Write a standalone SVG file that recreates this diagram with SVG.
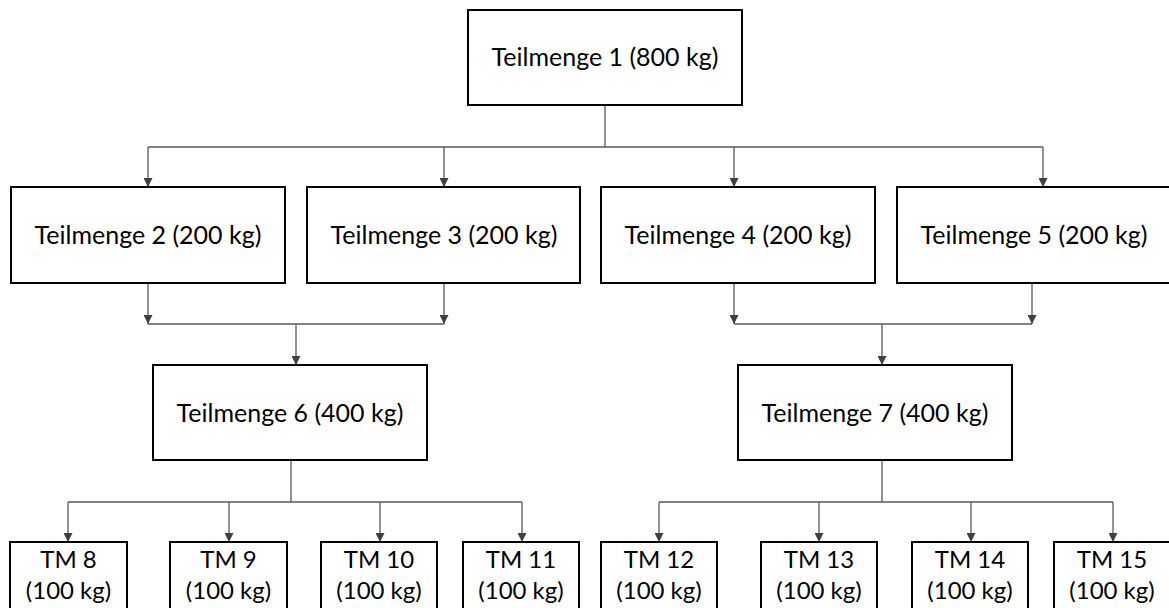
<svg xmlns="http://www.w3.org/2000/svg" width="1169" height="608" viewBox="0 0 1169 608">
  <defs>
    <marker id="arr" markerUnits="userSpaceOnUse" markerWidth="10" markerHeight="9" refX="9" refY="4.5" orient="auto">
      <path d="M0,0 L9,4.5 L0,9 Z" fill="#404040"/>
    </marker>
    <style>
      .box { fill: #ffffff; stroke: #000000; stroke-width: 2; }
      .lbl { font-family: Lato, "Open Sans", "Liberation Sans", sans-serif; font-size: 24px; fill: #000000; text-anchor: middle; }
      .big { font-size: 25px; }
      .c { fill: none; stroke: #595959; stroke-width: 1.3; }
      .a { fill: none; stroke: #595959; stroke-width: 1.3; marker-end: url(#arr); }
    </style>
  </defs>
  <rect width="1169" height="608" fill="#ffffff"/>

  <g id="connectors">
    <path class="c" d="M605 105 V147 M148 147 H1043"/>
    <path class="a" d="M148 147 V187"/>
    <path class="a" d="M444 147 V187"/>
    <path class="a" d="M734 147 V187"/>
    <path class="a" d="M1043 147 V187"/>

    <path class="a" d="M148 283 V324"/>
    <path class="a" d="M444 283 V324"/>
    <path class="c" d="M148 324 H444"/>
    <path class="a" d="M296 324 V365"/>

    <path class="a" d="M734 283 V324"/>
    <path class="a" d="M1032 283 V324"/>
    <path class="c" d="M734 324 H1032"/>
    <path class="a" d="M882 324 V365"/>

    <path class="c" d="M291 460 V502 M68 502 H522"/>
    <path class="a" d="M68 502 V542"/>
    <path class="a" d="M229 502 V542"/>
    <path class="a" d="M380 502 V542"/>
    <path class="a" d="M522 502 V542"/>

    <path class="c" d="M882 460 V502 M659 502 H1113"/>
    <path class="a" d="M659 502 V542"/>
    <path class="a" d="M819 502 V542"/>
    <path class="a" d="M971 502 V542"/>
    <path class="a" d="M1113 502 V542"/>
  </g>

  <g id="tm1"><rect class="box" x="468" y="10" width="274" height="95"/><text class="lbl big" x="605" y="66">Teilmenge 1 (800 kg)</text></g>
  <g id="tm2"><rect class="box" x="11" y="187" width="274" height="96"/><text class="lbl big" x="148" y="244">Teilmenge 2 (200 kg)</text></g>
  <g id="tm3"><rect class="box" x="307" y="187" width="273" height="96"/><text class="lbl big" x="444" y="244">Teilmenge 3 (200 kg)</text></g>
  <g id="tm4"><rect class="box" x="601" y="187" width="274" height="96"/><text class="lbl big" x="738" y="244">Teilmenge 4 (200 kg)</text></g>
  <g id="tm5"><rect class="box" x="897" y="187" width="274" height="96"/><text class="lbl big" x="1034" y="244">Teilmenge 5 (200 kg)</text></g>
  <g id="tm6"><rect class="box" x="153" y="365" width="274" height="95"/><text class="lbl big" x="290" y="422">Teilmenge 6 (400 kg)</text></g>
  <g id="tm7"><rect class="box" x="738" y="365" width="274" height="95"/><text class="lbl big" x="875" y="422">Teilmenge 7 (400 kg)</text></g>

  <g id="tm8"><rect class="box" x="10" y="542" width="117" height="70"/><text class="lbl" x="68.5" y="568">TM 8</text><text class="lbl" x="68.5" y="599">(100 kg)</text></g>
  <g id="tm9"><rect class="box" x="170" y="542" width="117" height="70"/><text class="lbl" x="228.5" y="568">TM 9</text><text class="lbl" x="228.5" y="599">(100 kg)</text></g>
  <g id="tm10"><rect class="box" x="321" y="542" width="116" height="70"/><text class="lbl" x="379" y="568">TM 10</text><text class="lbl" x="379" y="599">(100 kg)</text></g>
  <g id="tm11"><rect class="box" x="463" y="542" width="116" height="70"/><text class="lbl" x="521" y="568">TM 11</text><text class="lbl" x="521" y="599">(100 kg)</text></g>
  <g id="tm12"><rect class="box" x="601" y="542" width="116" height="70"/><text class="lbl" x="659" y="568">TM 12</text><text class="lbl" x="659" y="599">(100 kg)</text></g>
  <g id="tm13"><rect class="box" x="761" y="542" width="116" height="70"/><text class="lbl" x="819" y="568">TM 13</text><text class="lbl" x="819" y="599">(100 kg)</text></g>
  <g id="tm14"><rect class="box" x="912" y="542" width="116" height="70"/><text class="lbl" x="970" y="568">TM 14</text><text class="lbl" x="970" y="599">(100 kg)</text></g>
  <g id="tm15"><rect class="box" x="1054" y="542" width="117" height="70"/><text class="lbl" x="1112" y="568">TM 15</text><text class="lbl" x="1112" y="599">(100 kg)</text></g>
</svg>
